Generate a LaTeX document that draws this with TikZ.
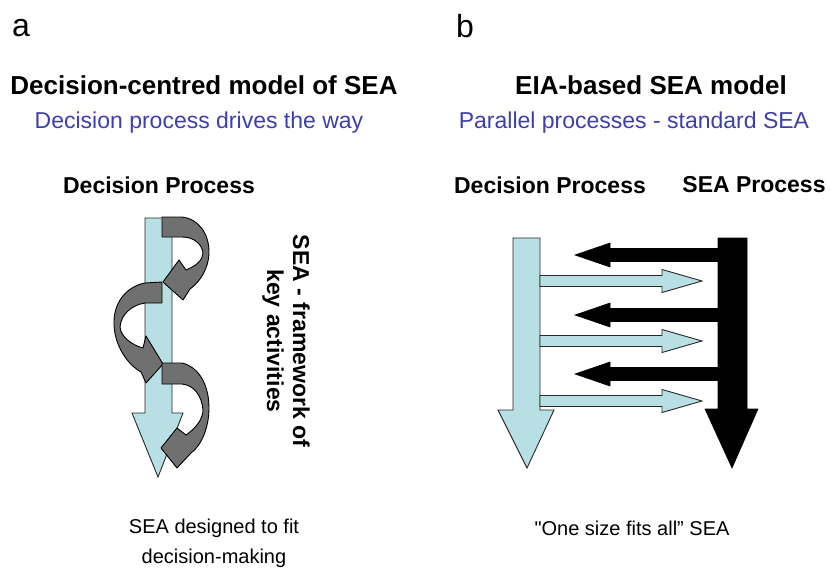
\documentclass[tikz,border=0pt]{standalone}
\usepackage{fontspec}
\setmainfont{Liberation Sans}
\definecolor{lblue}{RGB}{184,224,228}
\definecolor{loopgrey}{RGB}{112,112,112}
\definecolor{subblue}{RGB}{62,62,172}
\definecolor{edge}{RGB}{40,40,40}
\begin{document}
\begin{tikzpicture}[x=1pt,y=-1pt,
  txt/.style={inner sep=0pt,anchor=center},
  letter/.style={txt,font=\fontsize{32}{36}\selectfont},
  title/.style={txt,font=\fontsize{26}{31}\selectfont\bfseries},
  subtitle/.style={txt,text=subblue,font=\fontsize{23}{28}\selectfont},
  head/.style={txt,font=\fontsize{23}{28}\selectfont\bfseries},
  caption/.style={txt,font=\fontsize{20}{30}\selectfont,align=center},
  bluearrow/.style={fill=lblue,draw=edge,line width=0.9pt,line join=miter},
  blackarrow/.style={fill=black,draw=black,line width=0.6pt},
  loop/.style={fill=loopgrey,draw=black,line width=0.9pt,line join=round}]
\useasboundingbox (0,0) rectangle (830,574);

% ---------- texts ----------
\node[letter] (la) at (21,28) {a};
\node[letter] (lb) at (465,26) {b};
\node[title] (ta) at (204,85) {Decision-centred model of SEA};
\node[subtitle] (sa) at (199,123) {Decision process drives the way};
\node[head] (dpa) at (159,185) {Decision Process};
\node[title] (tb) at (651,85) {EIA-based SEA model};
\node[subtitle] (sb) at (634,123) {Parallel processes - standard SEA};
\node[head] (dpb) at (550,185) {Decision Process};
\node[head] (spb) at (754,185) {SEA Process};
\node[head,rotate=-90,align=center,font=\fontsize{23}{26}\selectfont\bfseries] (fw) at (286,341) {SEA - framework of\\key activities};
\node[caption] (ca) at (214,543) {SEA designed to fit\\decision-making};
\node[caption] (cb) at (632,528) {\textquotedbl{}One size fits all” SEA};

% ---------- panel a ----------
\draw[bluearrow] (145,218) -- (172,218) -- (172,413) -- (183,413) -- (158,477) -- (132,413) -- (145,413) -- cycle;

% loop 1 (right)
\draw[loop] (162,217) -- (182,217) .. controls (199,219) and (209,234) .. (209,252)
  .. controls (209,268) and (200,282) .. (190,289) -- (183,300) -- (163,282) -- (179,260)
  -- (186,270) .. controls (196,266) and (203,260) .. (203,253)
  .. controls (202,244) and (194,237) .. (182,237) -- (162,237) -- cycle;
% loop 2 (left)
\draw[loop] (162,282) -- (145,283) .. controls (125,287) and (113,304) .. (114,325)
  .. controls (115,346) and (127,364) .. (141,372) -- (146,383) -- (163,364) -- (146,336)
  -- (143,348) .. controls (132,345) and (121,337) .. (120,327)
  .. controls (121,314) and (132,305) .. (145,303) -- (162,303) -- cycle;
% loop 3 (right, bottom)
\draw[loop] (162,363) -- (182,363) .. controls (199,367) and (209,385) .. (209,408)
  .. controls (209,428) and (201,446) .. (191,453) -- (177,468) -- (161,448) -- (177,428)
  -- (186,435) .. controls (196,428) and (203,419) .. (203,410)
  .. controls (202,396) and (194,385) .. (182,384) -- (162,384) -- cycle;

% ---------- panel b ----------
% vertical arrows
\draw[bluearrow] (513,238) -- (540,238) -- (540,410) -- (554,410) -- (527,468) -- (498,410) -- (513,410) -- cycle;
\draw[blackarrow] (718,238) -- (747,238) -- (747,409) -- (758,409) -- (732,468) -- (705,409) -- (718,409) -- cycle;

% black leftward arrows
\foreach \c in {255,315,374}{
  \draw[blackarrow] (720,\c-6.5) -- (610,\c-6.5) -- (610,\c-12) -- (575,\c) -- (610,\c+12) -- (610,\c+6.5) -- (720,\c+6.5) -- cycle;
}
% blue rightward arrows
\foreach \c in {281,341,401}{
  \draw[bluearrow] (540,\c-5.5) -- (662,\c-5.5) -- (662,\c-11.5) -- (702,\c) -- (662,\c+11.5) -- (662,\c+5.5) -- (540,\c+5.5) -- cycle;
}
\end{tikzpicture}
\end{document}
